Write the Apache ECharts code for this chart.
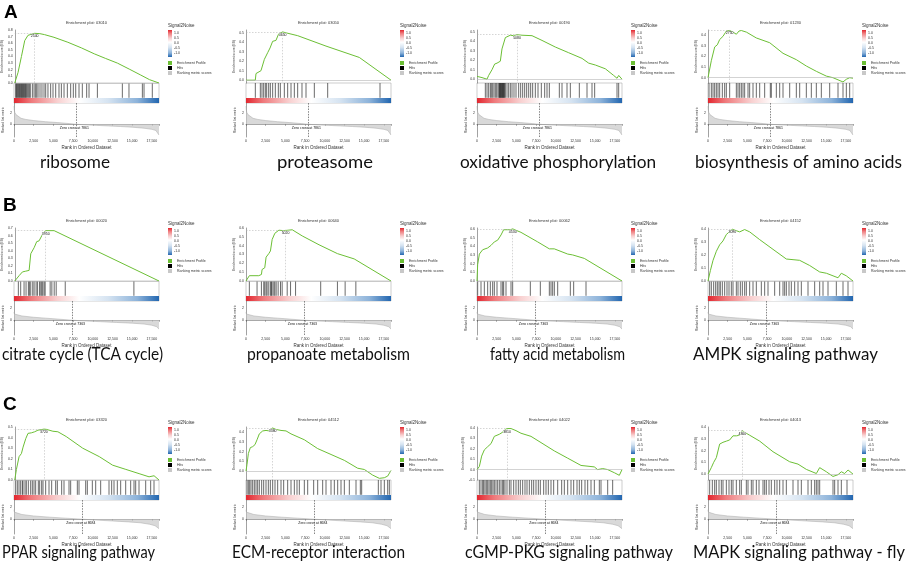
<!DOCTYPE html>
<html><head><meta charset="utf-8">
<script src="https://cdn.jsdelivr.net/npm/echarts@6/dist/echarts.min.js"></script>
<style>html,body{margin:0;padding:0;background:#fff}#c{width:913px;height:576px}</style>
</head><body><div id="c"></div><script>
// ---------------- data ----------------
const N = 18400; // ranked list length
const keggIds = ['03010','03050','00190','01230','00020','00640','00062','04152','03320','04512','04022','04013'];
const captions = ['ribosome','proteasome','oxidative phosphorylation','biosynthesis of amino acids',
  'citrate cycle (TCA cycle)','propanoate metabolism','fatty acid metabolism','AMPK signaling pathway',
  'PPAR signaling pathway','ECM-receptor interaction','cGMP-PKG signaling pathway','MAPK signaling pathway - fly'];
const rowLetters = ['A','B','C'];
const zeroCross = [7861, 7363, 8684];
const colorTicks = ['1.0','0.5','0.0','-0.5','-1.0'];
const legendNames = ['Enrichment Profile','Hits','Ranking metric scores'];

const rankedA = [[0,3.2],[30,2.6],[100,2.1],[250,1.7],[500,1.35],[900,1.05],[1500,0.85],[2500,0.65],[4000,0.45],[5500,0.3],[7000,0.12],[7861,0],[9000,-0.1],[10500,-0.2],[12000,-0.3],[13500,-0.4],[15000,-0.52],[16500,-0.7],[17500,-0.9],[18000,-1.1],[18250,-1.4],[18400,-1.9]];
const rankedB = [[0,1.4],[50,1.05],[300,0.88],[1000,0.72],[2500,0.5],[4000,0.35],[5500,0.2],[7363,0],[9000,-0.12],[11000,-0.25],[13000,-0.38],[15000,-0.5],[16500,-0.65],[17500,-0.85],[18100,-1.1],[18400,-1.5]];
const rankedC = [[0,1.6],[50,1.2],[300,1.0],[1000,0.8],[2500,0.55],[4500,0.35],[6500,0.18],[8684,0],[10500,-0.15],[12500,-0.3],[14500,-0.45],[16000,-0.6],[17200,-0.85],[17900,-1.1],[18400,-1.6]];

const es1 = [[0,0],[420,0.16],[850,0.4],[1270,0.64],[1690,0.72],[1900,0.735],[2540,0.75],[3200,0.745],[3800,0.73],[5000,0.69],[6770,0.615],[8500,0.53],[10150,0.44],[11600,0.37],[13100,0.3],[14600,0.21],[16070,0.12],[17200,0.05],[18400,0]];
const es2 = [[0,0],[1180,0],[1270,0.07],[1900,0.1],[2330,0.22],[2750,0.29],[3050,0.34],[3380,0.41],[3800,0.42],[4150,0.49],[4650,0.51],[5080,0.5],[6560,0.47],[10150,0.36],[14380,0.24],[18400,0]];
const es3 = [[0,0.03],[635,0.017],[1270,0],[1480,0.04],[1900,0.1],[2240,0.16],[2540,0.17],[2960,0.19],[3170,0.32],[3600,0.44],[4230,0.465],[4650,0.46],[5080,0.47],[5710,0.465],[6980,0.46],[8250,0.41],[9940,0.34],[11630,0.28],[13330,0.22],[14170,0.17],[15020,0.15],[16290,0.11],[17340,0.04],[17770,0.01],[17980,0.04],[18400,0]];
const es4 = [[0,0],[420,0.16],[850,0.29],[1180,0.31],[1480,0.36],[1900,0.39],[2330,0.44],[2750,0.445],[3170,0.43],[3600,0.41],[3930,0.44],[4230,0.445],[4870,0.43],[6130,0.375],[7830,0.33],[9520,0.23],[11210,0.17],[12480,0.11],[13750,0.06],[15020,0.015],[15860,0],[17130,-0.04],[17550,-0.015],[17980,0],[18400,-0.005]];
const es5 = [[0,0],[550,0.07],[980,0.12],[1400,0.13],[1830,0.14],[2040,0.36],[2250,0.38],[2470,0.44],[2800,0.52],[3100,0.53],[3320,0.55],[3660,0.64],[3950,0.665],[5020,0.665],[18400,0]];
const es6 = [[0,0],[425,0.06],[1620,0.06],[1960,0.074],[2040,0.13],[2380,0.15],[2550,0.27],[2890,0.31],[3100,0.34],[3320,0.47],[3660,0.54],[4170,0.575],[4800,0.57],[5020,0.58],[5870,0.58],[7140,0.51],[9270,0.41],[11600,0.31],[13730,0.25],[18400,0]];
const es7 = [[0,0],[85,0.19],[300,0.31],[720,0.36],[1350,0.38],[1780,0.41],[2200,0.45],[2620,0.47],[3050,0.53],[3380,0.59],[3890,0.59],[4230,0.59],[4530,0.6],[5580,0.56],[7700,0.45],[9180,0.37],[9810,0.37],[11510,0.31],[12140,0.3],[13620,0.26],[18400,0]];
const es8 = [[0,0],[300,0.08],[640,0.16],[1060,0.23],[1480,0.28],[1900,0.31],[2330,0.36],[2800,0.385],[3090,0.4],[4020,0.38],[4650,0.398],[5290,0.38],[6560,0.32],[8250,0.245],[9940,0.17],[10790,0.165],[11630,0.16],[12900,0.12],[14170,0.07],[15020,0.06],[16500,0.025],[16920,0.06],[17550,0.04],[18400,0]];
const es9 = [[0,0],[210,0.1],[550,0.22],[850,0.25],[1060,0.31],[1400,0.39],[1690,0.44],[2120,0.445],[2540,0.455],[2960,0.47],[3380,0.475],[3720,0.48],[4020,0.478],[4860,0.46],[5500,0.455],[6560,0.41],[8670,0.3],[10790,0.22],[12480,0.14],[14170,0.1],[15860,0.06],[17130,0.03],[17770,0.04],[18400,0]];
const es10 = [[0,0],[130,0.07],[300,0.18],[550,0.24],[850,0.25],[1140,0.27],[1400,0.32],[1690,0.38],[2120,0.41],[2540,0.415],[2960,0.41],[3380,0.44],[3810,0.425],[4440,0.415],[5080,0.41],[5710,0.38],[7400,0.32],[9090,0.23],[10790,0.17],[12480,0.11],[14170,0.03],[15020,0.017],[16070,-0.04],[16920,-0.073],[17550,-0.067],[17980,-0.05],[18400,0.007]];
const es11 = [[0,0],[300,0.03],[590,0.13],[930,0.19],[1350,0.22],[1780,0.25],[2200,0.32],[2830,0.34],[3260,0.36],[3470,0.38],[3810,0.395],[4320,0.395],[4950,0.375],[5580,0.35],[6850,0.32],[8120,0.26],[9810,0.18],[11510,0.11],[13200,0.04],[14890,0.026],[15310,0],[15950,0.01],[16580,0],[17430,-0.03],[18060,-0.055],[18400,0]];
const es12 = [[0,0],[420,0.055],[720,0.1],[1060,0.14],[1480,0.255],[1900,0.27],[2330,0.28],[2750,0.29],[3170,0.325],[3600,0.325],[4020,0.33],[4360,0.37],[4650,0.355],[5290,0.33],[6560,0.28],[8250,0.19],[10360,0.105],[11420,0.085],[12480,0.04],[13750,0.005],[14170,0.055],[15020,0.02],[15860,-0.02],[16500,-0.005],[16920,0.02],[17340,0.005],[17770,0.035],[18400,0]];

const hits1 = [212,300,370,470,545,640,720,800,895,970,1060,1140,1230,1305,1400,1480,1570,1690,1820,1950,2070,2330,2540,2710,2880,3050,3300,3550,3810,4020,4310,4650,4950,5290,5710,6010,6350,6770,7190,7530,7830,8250,8670,9220,9520,10580,13750,14590,16290,16500,17550];
const hits2 = [1184,1819,2030,2242,2453,2623,2876,3088,3384,3722,4103,4357,4865,5288,5711,6134,6556,7106,7614,8672,10364,17005];
const hits3 = [1058,1269,1481,1692,1819,1988,2157,2327,2496,2665,2792,2850,2919,2980,3046,3100,3173,3240,3299,3360,3426,3500,3596,3807,4019,4230,4442,4695,4949,5288,5541,5795,6049,6303,6557,6810,7064,7403,7741,8164,8587,8883,9179,10448,10787,11421,11844,12986,13959,14594,14932,17766,17978];
const hits4 = [127,423,635,846,1058,1269,1481,1819,2115,2327,2750,3596,3807,4019,4230,4442,4653,5076,5288,5711,6134,6557,7191,7910,8037,8672,9095,9518,10364,11210,11633,12479,13113,13748,14382,15440,16497,17132,17555,17978];
const hits5 = [553,850,1275,1530,1828,1955,2125,2380,2550,2805,2975,3230,3400,3528,3655,3825,3953,4590,4803,5100,5355,6503,15215];
const hits6 = [425,1403,1955,2253,2380,2550,2678,2890,3103,3230,3315,3528,3655,3825,4080,4378,4590,5228,5653,6290,9478,11603,12580,13940];
const hits7 = [85,508,931,1354,1692,1988,2200,2538,3046,3257,3384,3680,4315,4526,6768,8037,9179,9391,9602,9814,10237,11844,12267,13832];
const hits8 = [212,423,719,973,1184,1396,1565,1819,2115,2411,2665,2961,3173,3596,3807,4103,4357,4653,4865,5288,5711,6134,6768,7191,7614,8460,9095,9518,9729,9941,10279,10575,10998,11421,11844,12690,13536,14171,14594,15228,16286,17132,17766];
const hits9 = [212,423,635,846,1058,1142,1396,1565,1819,2115,2327,2538,2750,3088,3257,3511,3680,4019,4442,4780,5288,5499,6049,6345,6980,7191,8037,8249,9095,9306,9941,10364,10998,12056,12394,12690,13113,13536,14171,14805,15228,15440,15863,16709,17343,17766];
const hits10 = [127,296,465,635,846,1058,1269,1481,1692,1988,2242,2538,2834,3088,3384,3680,4019,4442,4780,5288,5711,6134,6472,6768,7403,7826,8587,9095,9729,10152,10787,11210,11633,12056,12479,13113,13959,14509,14678,16793,17132,17555,17978,18189];
const hits11 = [296,508,719,846,1015,1184,1354,1523,1692,1861,2030,2200,2411,2623,2834,3046,3257,3384,3553,3807,4103,4315,4653,4949,5245,5499,5795,6091,6345,6641,6937,7191,7487,7783,8037,8460,8756,9052,9391,9729,10237,10744,11083,11506,11929,12267,12690,12986,13282,13705,14044,14467,14890,15524,15736,16582,17216];
const hits12 = [212,550,846,1058,1396,1692,1904,2327,2665,2961,3173,3596,4019,4230,4865,5076,5499,5711,6134,6472,6980,7191,7403,7741,8037,8460,8756,9095,9518,9941,10787,11421,11844,12690,13113,13536,13748,13959,14171,15863,16074,16497,16920,17639];

const peaks = [[2540,0.75],[4650,0.51],[5080,0.47],[2750,0.445],[3950,0.665],[5020,0.58],[4530,0.6],[3090,0.4],[3720,0.48],[3380,0.44],[3810,0.395],[4360,0.37]];
const esMins = [0,-0.03,-0.04,-0.05,0,0,0,0,0,-0.09,-0.1,-0.05];
const esMaxs = [0.8,0.53,0.52,0.45,0.7,0.6,0.61,0.41,0.5,0.45,0.41,0.4];
const rankMins = [-2.25,-2.5,-2.5];
const rankMaxs = [3.75,3.25,3.25];

const esList = [es1,es2,es3,es4,es5,es6,es7,es8,es9,es10,es11,es12];
const hitsList = [hits1,hits2,hits3,hits4,hits5,hits6,hits7,hits8,hits9,hits10,hits11,hits12];
const rankedList = [rankedA,rankedB,rankedC];

// ---------------- layout / style ----------------
const LEFTS = [14,246,477,708], TOPS = [30,228,427];
const W = 145, H_ES = 53, H_HIT = 20, H_RANK = 34;
// caption extents (left, right) in pixels
const CAP_BOX = [[[40,110],[277,373],[460,656],[695,902]],
                 [[2,163],[247,410],[490,625],[693,878]],
                 [[2,155],[232,405],[465,673],[693,905]]];
const CAP_Y = [163,355,553];
const LETTER_Y = [3,196,395];
const GREEN = '#6cbf35';
const FONT = 'Liberation Sans';
const CAP_FONT = '17px Lato';

const measureCtx = document.createElement('canvas').getContext('2d');
measureCtx.font = CAP_FONT;

function barGradient(horizontal){
  const stops = [
    {offset:0,color:'#e3262f'},{offset:0.12,color:'#ef7a7c'},{offset:0.3,color:'#f8d0d0'},
    {offset:0.45,color:'#ffffff'},{offset:0.65,color:'#d5e3f1'},{offset:0.85,color:'#8db3da'},{offset:1,color:'#2266b0'}];
  return horizontal ? new echarts.graphic.LinearGradient(0,0,1,0,stops) : new echarts.graphic.LinearGradient(0,0,0,1,stops);
}
const esFmt = v => { const t = Math.round(v*10); return Math.abs(v*10 - t) < 1e-6 ? (t/10).toFixed(1) : ''; };

const grid=[], xAxis=[], yAxis=[], series=[], legend=[], graphic=[];
const small = {fontSize:3.5, color:'#333', fontFamily:FONT};

esList.forEach((es,i)=>{
  const row = Math.floor(i/4), col = i%4;
  const L = LEFTS[col], T = TOPS[row];
  const g = grid.length;
  const pk = peaks[i], zc = zeroCross[row];
  grid.push({left:L, top:T, width:W, height:H_ES});
  grid.push({left:L, top:T+H_ES, width:W, height:H_HIT, show:true, borderColor:'#9a9a9a', borderWidth:0.5, backgroundColor:'#fff'});
  grid.push({left:L, top:T+H_ES+H_HIT, width:W, height:H_RANK});

  xAxis.push({gridIndex:g, type:'value', min:0, max:N, show:false});
  xAxis.push({gridIndex:g+1, type:'value', min:0, max:N, show:false});
  xAxis.push({gridIndex:g+2, type:'value', min:0, max:N, interval:2500,
    axisLine:{lineStyle:{color:'#444',width:0.5}}, axisTick:{length:1.5,lineStyle:{color:'#444',width:0.5}},
    splitLine:{show:false},
    axisLabel:Object.assign({margin:2, formatter:v => v%2500===0 ? v.toLocaleString('en-US') : ''}, small),
    name:'Rank in Ordered Dataset', nameLocation:'middle', nameGap:8.5,
    nameTextStyle:{fontSize:4.5, color:'#333', fontFamily:FONT}});

  yAxis.push({gridIndex:g, type:'value', min:esMins[i], max:esMaxs[i], interval:0.01,
    axisLine:{show:true, lineStyle:{color:'#444',width:0.5}}, axisTick:{show:false}, splitLine:{show:false},
    axisLabel:Object.assign({margin:2, formatter:esFmt}, small),
    name:'Enrichment score (ES)', nameLocation:'middle', nameGap:9, nameRotate:90,
    nameTextStyle:{fontSize:3.3, color:'#333', fontFamily:FONT}});
  yAxis.push({gridIndex:g+1, type:'value', min:0, max:1, show:false});
  yAxis.push({gridIndex:g+2, type:'value', min:rankMins[row], max:rankMaxs[row], interval:0.25,
    axisLine:{show:true, lineStyle:{color:'#444',width:0.5}}, axisTick:{show:false}, splitLine:{show:false},
    axisLabel:Object.assign({margin:2, formatter:v => (v===0||v===2) ? String(v) : ''}, small),
    name:'Ranked list metric', nameLocation:'middle', nameGap:9, nameRotate:90,
    nameTextStyle:{fontSize:3.3, color:'#333', fontFamily:FONT}});

  series.push({type:'line', name:'Enrichment Profile', xAxisIndex:g, yAxisIndex:g, data:es,
    symbol:'none', color:GREEN, lineStyle:{color:GREEN,width:1}, itemStyle:{color:GREEN}, z:3,
    markLine:{silent:true, symbol:['none','none'], label:{show:false}, animation:false,
      data:[
        [{coord:[0,0], lineStyle:{color:'#b5b5b5', width:0.6, type:'solid'}},{coord:[N,0]}],
        [{coord:[0,pk[1]], lineStyle:{color:'#aaaaaa', width:0.5, type:[1.5,1.5]}},{coord:pk}],
        [{coord:pk, lineStyle:{color:'#aaaaaa', width:0.5, type:[1.5,1.5]}},{coord:[pk[0],esMins[i]]}]
      ]},
    markPoint:{silent:true, symbol:'circle', symbolSize:0, animation:false,
      data:[{coord:pk, value:pk[0]}],
      label:{show:true, position:'bottom', distance:1, formatter:String(pk[0]), fontSize:3.5, color:'#111', fontFamily:FONT,
        backgroundColor:'rgba(255,255,255,0.85)'}}
  });
  series.push({type:'custom', name:'Hits', xAxisIndex:g+1, yAxisIndex:g+1, color:'#000', itemStyle:{color:'#000'},
    data:hitsList[i].map(r=>[r,1]),
    renderItem:(params,api)=>{
      const a = api.coord([api.value(0),1]), b = api.coord([api.value(0),0.26]);
      return {type:'line', shape:{x1:a[0],y1:a[1],x2:b[0],y2:b[1]}, style:{stroke:'#1a1a1a', lineWidth:0.65}};
    }});
  series.push({type:'custom', name:'colorbar', xAxisIndex:g+1, yAxisIndex:g+1, data:[[0,N]], encode:{x:[0,1]},
    renderItem:(params,api)=>{
      const a = api.coord([api.value(0),0.25]), b = api.coord([api.value(1),0]);
      return {type:'rect', shape:{x:a[0],y:a[1],width:b[0]-a[0],height:b[1]-a[1]}, style:{fill:barGradient(true)}};
    }});
  series.push({type:'line', name:'Ranking metric scores', xAxisIndex:g+2, yAxisIndex:g+2, data:rankedList[row],
    symbol:'none', color:'#c8c8c8', lineStyle:{color:'#a8a8a8',width:0.5}, areaStyle:{color:'#c9c9c9'}, itemStyle:{color:'#c8c8c8'},
    markLine:{silent:true, symbol:['none','none'], label:{show:false}, animation:false,
      data:[{xAxis:zc, lineStyle:{color:'#333', width:0.6, type:[1.5,1.2]}}]},
    markPoint:{silent:true, symbol:'circle', symbolSize:0, animation:false,
      data:[{coord:[zc-200,-0.65]}],
      label:{show:true, position:'inside', formatter:'Zero cross at '+zc, fontSize:3.5, color:'#111', fontFamily:FONT}}
  });

  legend.push({left:L+154, top:T+31, orient:'vertical', itemWidth:4, itemHeight:4, itemGap:1, padding:0,
    icon:'rect', selectedMode:false, data:legendNames, textStyle:{fontSize:3.5, color:'#333', fontFamily:FONT}});

  graphic.push({type:'text', x:L+W/2, y:T-7.5, silent:true,
    style:{text:'Enrichment plot: '+keggIds[i], fontSize:4, fontFamily:FONT, fill:'#333',
      textAlign:'center', align:'center', textVerticalAlign:'middle', verticalAlign:'middle'}});
  graphic.push({type:'text', x:L+154, y:T-4, silent:true,
    style:{text:'Signal2Noise', fontSize:4.5, fontFamily:FONT, fill:'#333', textVerticalAlign:'middle', verticalAlign:'middle'}});
  graphic.push({type:'rect', silent:true, shape:{x:L+154, y:T, width:4, height:27}, style:{fill:barGradient(false)}});
  colorTicks.forEach((t,k)=>{
    graphic.push({type:'text', x:L+160, y:T+3.5+k*5, silent:true,
      style:{text:t, fontSize:3.5, fontFamily:FONT, fill:'#333', textVerticalAlign:'middle', verticalAlign:'middle'}});
  });
  // caption, fitted horizontally to its extent in the reference
  const box = CAP_BOX[row][col];
  const natural = measureCtx.measureText(captions[i]).width || 1;
  const sx = Math.min(1.1, (box[1]-box[0]) / natural);
  graphic.push({type:'text', x:box[0], y:CAP_Y[row], scaleX:sx, silent:true,
    style:{text:captions[i], fontSize:17, fontFamily:'Lato', fill:'#111',
      textAlign:'left', align:'left', textVerticalAlign:'middle', verticalAlign:'middle'}});
});
rowLetters.forEach((t,r)=>{
  graphic.push({type:'text', x:r===0?4:3, y:LETTER_Y[r], silent:true,
    style:{text:t, fontSize:19, fontWeight:'bold', fontFamily:FONT, fill:'#000', textVerticalAlign:'top', verticalAlign:'top'}});
});

const chart = echarts.init(document.getElementById('c'), null, {renderer:'canvas'});
chart.setOption({
  animation:false, backgroundColor:'#fff', textStyle:{fontFamily:FONT},
  grid, xAxis, yAxis, series, legend, graphic
});
</script></body></html>
